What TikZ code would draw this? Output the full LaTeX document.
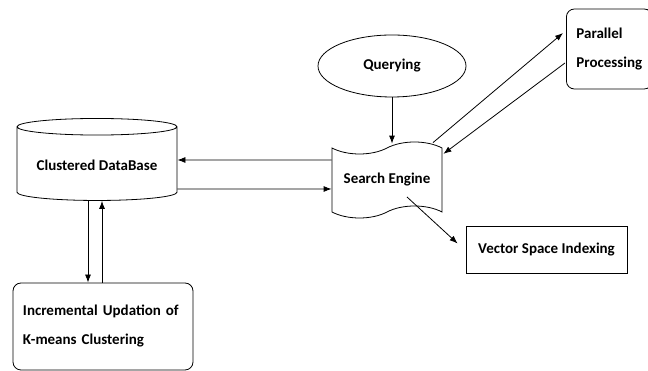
\documentclass[tikz,border=0pt]{standalone}
\usepackage{fontspec}
\setmainfont{Carlito}
\usetikzlibrary{shapes.geometric,shapes.symbols,arrows.meta}

\begin{document}
\begin{tikzpicture}[x=1pt,y=1pt,
    every node/.style={font=\bfseries\fontsize{15}{29}\selectfont},
    link/.style={line width=0.8pt,-{Latex[length=8pt,width=6pt]}},
    box/.style={draw,line width=0.8pt,rounded corners=8pt},
    flat/.style={draw,line width=0.8pt}]
    \useasboundingbox (0,0) rectangle (648,371);

    % Stores and engine
    \node[flat,cylinder,shape border rotate=90,aspect=0.13,
          minimum width=160pt,minimum height=82pt] (db) at (97,206) {Clustered DataBase};
    \node[flat,tape,tape bend height=12pt,minimum width=110pt,minimum height=76pt] (se) at (387,191) {Search Engine};
    \node[flat,ellipse,minimum width=148pt,minimum height=62pt] (q) at (392,305) {Querying};

    % Outer tasks
    \node[box,minimum width=81pt,minimum height=80pt,align=left,anchor=west,
          inner sep=10pt] (pp) at (566,322) {Parallel\\Processing};
    \node[flat,minimum width=161pt,minimum height=47pt] (vsi) at (546.5,121.5) {Vector Space Indexing};
    \node[box,minimum width=180pt,minimum height=87pt,align=left,text width=160pt] (inc) at (103,44.5)
        {Incremental Updation of\\K-means Clustering};

    % Arrows
    \draw[link] (q.south) -- ([yshift=4pt]q.south |- se.north);
    \draw[link] ([xshift=46pt,yshift=5pt]se.north) -- ([xshift=-3pt,yshift=16pt]pp.west);
    \draw[link] ([xshift=-1pt,yshift=-14pt]pp.west) -- ([xshift=1pt,yshift=-6pt]se.north east);
    \draw[link] ([xshift=20pt,yshift=-17pt]se.center) -- ([xshift=-8pt,yshift=6pt]vsi.west);
    \draw[link] ([yshift=20pt]se.west) -- ([yshift=5pt]db.east);
    \draw[link] ([yshift=-24pt]db.east) -- ([yshift=-9pt]se.west);
    \draw[link] ([xshift=-9pt]db.south) -- ([xshift=-15pt]inc.north);
    \draw[link] ([xshift=-1pt]inc.north) -- ([xshift=5pt]db.south);
\end{tikzpicture}
\end{document}
